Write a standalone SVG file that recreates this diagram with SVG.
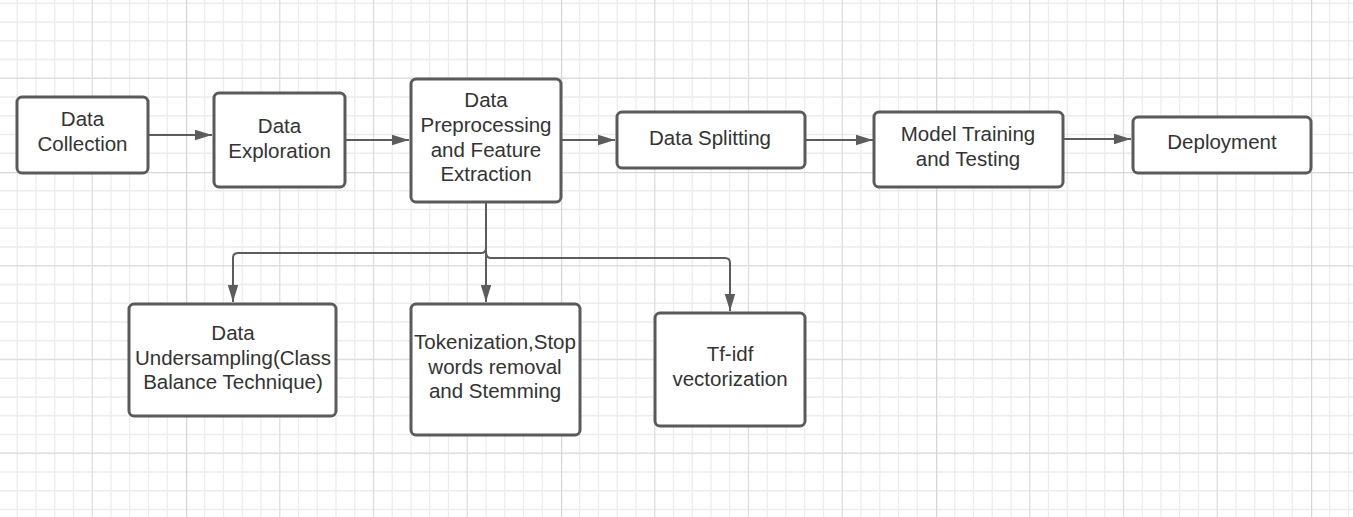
<svg xmlns="http://www.w3.org/2000/svg" width="1353" height="517" viewBox="0 0 1353 517">
<defs>
<pattern id="grid" patternUnits="userSpaceOnUse" x="186" y="172" width="375" height="375">
<path d="M18.75 0V375M37.5 0V375M56.25 0V375M75 0V375M112.5 0V375M131.25 0V375M150 0V375M168.75 0V375M206.25 0V375M225 0V375M243.75 0V375M262.5 0V375M300 0V375M318.75 0V375M337.5 0V375M356.25 0V375M0 18.75H375M0 37.5H375M0 56.25H375M0 75H375M0 112.5H375M0 131.25H375M0 150H375M0 168.75H375M0 206.25H375M0 225H375M0 243.75H375M0 262.5H375M0 300H375M0 318.75H375M0 337.5H375M0 356.25H375" stroke="#ececec" stroke-width="1.3" fill="none"/>
<path d="M93.75 0V375M187.5 0V375M281.25 0V375M0 93.75H375M0 187.5H375M0 281.25H375" stroke="#dedede" stroke-width="1.3" fill="none"/>
<path d="M0 0V375M0 0H375" stroke="#d6d6d6" stroke-width="2.5" fill="none"/>
</pattern>
<marker id="arr" markerUnits="userSpaceOnUse" markerWidth="18" markerHeight="12" refX="17" refY="6" orient="auto">
<path d="M0,0.8 L17,6 L0,11.2 Z" fill="#5c5c5c"/>
</marker>
<style>
.box{fill:#ffffff;stroke:#5a5a5a;stroke-width:3}
.t{font-family:"Liberation Sans",Arial,sans-serif;font-size:20.5px;fill:#333333;text-anchor:middle}
.c{fill:none;stroke:#5c5c5c;stroke-width:2}
</style>
</defs>
<rect width="1353" height="517" fill="#ffffff"/>
<rect width="1353" height="517" fill="url(#grid)"/>

<g id="connectors">
<path class="c" d="M148,135 H212" marker-end="url(#arr)"/>
<path class="c" d="M345,140 H409" marker-end="url(#arr)"/>
<path class="c" d="M561,140 H615" marker-end="url(#arr)"/>
<path class="c" d="M805,140 H873" marker-end="url(#arr)"/>
<path class="c" d="M1063,139 H1131" marker-end="url(#arr)"/>
<path class="c" d="M486,202 V248 Q486,253 481,253 H238 Q233,253 233,258 V302" marker-end="url(#arr)"/>
<path class="c" d="M486,202 V302" marker-end="url(#arr)"/>
<path class="c" d="M486,252 Q486,258 491,258 H725 Q730,258 730,263 V311" marker-end="url(#arr)"/>
</g>

<g id="n1"><rect class="box" x="17" y="97" width="131" height="76" rx="5"/>
<text class="t" x="82.5" y="126">Data</text><text class="t" x="82.5" y="151">Collection</text></g>

<g id="n2"><rect class="box" x="214" y="93" width="131" height="94" rx="5"/>
<text class="t" x="279.5" y="133">Data</text><text class="t" x="279.5" y="158">Exploration</text></g>

<g id="n3"><rect class="box" x="411" y="79" width="150" height="123" rx="5"/>
<text class="t" x="486" y="107">Data</text><text class="t" x="486" y="132">Preprocessing</text><text class="t" x="486" y="156.5">and Feature</text><text class="t" x="486" y="181">Extraction</text></g>

<g id="n4"><rect class="box" x="617" y="112" width="188" height="56" rx="5"/>
<text class="t" x="710" y="145">Data Splitting</text></g>

<g id="n5"><rect class="box" x="874" y="112" width="189" height="75" rx="5"/>
<text class="t" x="968" y="141">Model Training</text><text class="t" x="968" y="166">and Testing</text></g>

<g id="n6"><rect class="box" x="1133" y="117" width="178" height="56" rx="5"/>
<text class="t" x="1222" y="149">Deployment</text></g>

<g id="n7"><rect class="box" x="129" y="304" width="207" height="112" rx="5"/>
<text class="t" x="233" y="340">Data</text><text class="t" x="233" y="364.5">Undersampling(Class</text><text class="t" x="233" y="389">Balance Technique)</text></g>

<g id="n8"><rect class="box" x="411" y="304" width="169" height="131" rx="5"/>
<text class="t" x="495" y="349">Tokenization,Stop</text><text class="t" x="495" y="373.5">words removal</text><text class="t" x="495" y="398">and Stemming</text></g>

<g id="n9"><rect class="box" x="655" y="313" width="150" height="113" rx="5"/>
<text class="t" x="730" y="361">Tf-idf</text><text class="t" x="730" y="386">vectorization</text></g>
</svg>
